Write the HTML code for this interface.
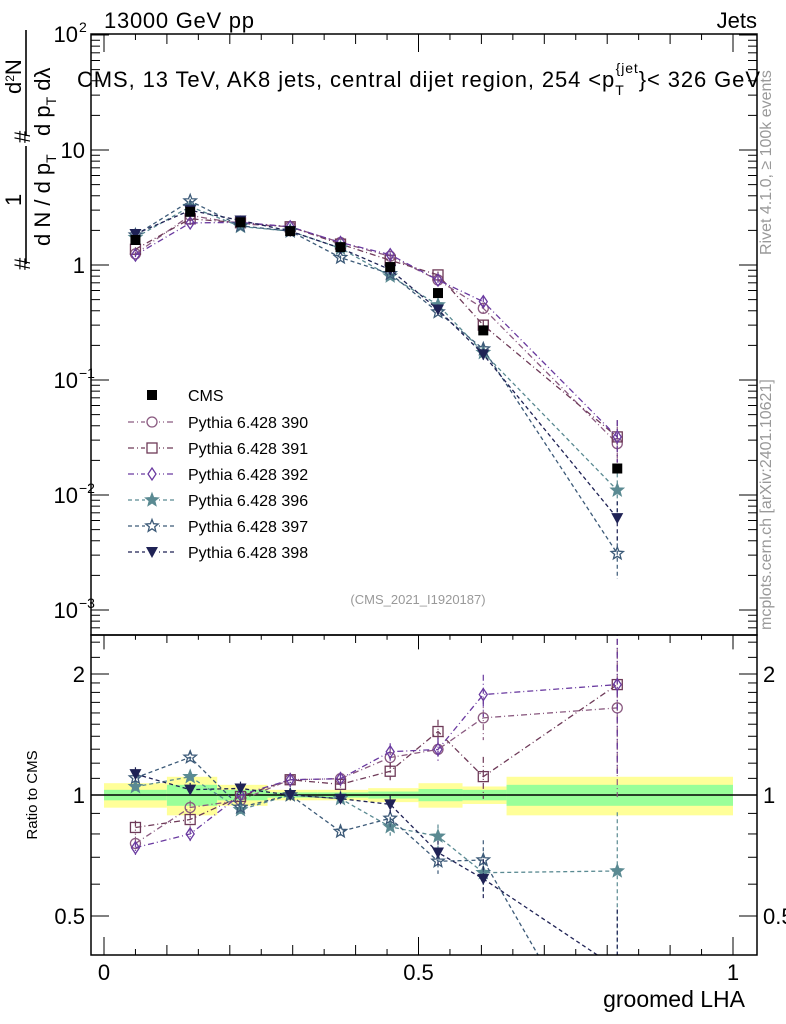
<!DOCTYPE html>
<html><head><meta charset="utf-8">
<style>
body{margin:0;background:#fff;overflow:hidden;}
svg{display:block;font-family:"Liberation Sans",sans-serif;}
</style></head>
<body>
<svg id="c" width="786" height="1024" viewBox="0 0 786 1024">
<g id="g"></g>
<text x="104" y="28" font-size="22" textLength="150">13000 GeV pp</text>
<text x="757" y="28" font-size="22" text-anchor="end">Jets</text>
<text x="77" y="87" font-size="22" textLength="683">CMS, 13 TeV, AK8 jets, central dijet region, 254 &lt;p<tspan font-size="14" dy="8">T</tspan><tspan font-size="14" dx="-9" dy="-22">{jet</tspan><tspan dy="14">}&lt; 326 GeV</tspan></text>
<text x="418" y="604" font-size="13" fill="#999" text-anchor="middle">(CMS_2021_I1920187)</text>
<text x="745" y="1007" font-size="23" text-anchor="end">groomed LHA</text>
<text transform="translate(37,795) rotate(-90)" font-size="15" text-anchor="middle">Ratio to CMS</text>
<g transform="rotate(-90)" font-size="22">
<text x="-270" y="30">#</text>
<text x="-206" y="21">1</text>
<line x1="-264" x2="-146" y1="26" y2="26" stroke="#000" stroke-width="1.6"/>
<text x="-246" y="50">d N / d p<tspan font-size="14" dy="6">T</tspan></text>
<text x="-143" y="30">#</text>
<text x="-94" y="21">d<tspan font-size="12" dy="-7">2</tspan><tspan dy="7">N</tspan></text>
<line x1="-136" x2="-30" y1="26" y2="26" stroke="#000" stroke-width="1.6"/>
<text x="-136" y="50">d p<tspan font-size="14" dy="6">T</tspan><tspan dy="-6"> d</tspan>λ</text>
</g>
<text transform="translate(771,255) rotate(-90)" font-size="16" fill="#999">Rivet 4.1.0, ≥ 100k events</text>
<text transform="translate(771,630) rotate(-90)" font-size="16" fill="#999">mcplots.cern.ch [arXiv:2401.10621]</text>
</svg>
<script>
const xCenters=[0.05,0.137,0.217,0.296,0.376,0.455,0.531,0.603,0.816];
const binEdges=[0,0.1,0.18,0.26,0.34,0.42,0.5,0.57,0.64,1.0];
const cmsValues=[1.65,2.9,2.35,1.97,1.43,0.96,0.57,0.27,0.017];
const bandYellow=[0.07,0.11,0.06,0.03,0.03,0.04,0.07,0.05,0.11];
const bandGreen=[0.03,0.06,0.03,0.015,0.015,0.02,0.035,0.03,0.06];
const s390=[1.25,2.7,2.28,2.15,1.57,1.19,0.74,0.42,0.028];
const s391=[1.37,2.52,2.33,2.15,1.52,1.10,0.82,0.30,0.032];
const s392=[1.22,2.32,2.35,2.15,1.57,1.23,0.74,0.48,0.032];
const s396=[1.73,3.22,2.16,1.97,1.40,0.80,0.45,0.173,0.011];
const s397=[1.82,3.6,2.19,1.97,1.16,0.84,0.39,0.186,0.0031];
const s398=[1.86,2.99,2.44,1.97,1.40,0.91,0.41,0.167,0.0063];
const relErr=[0.04,0.04,0.04,0.04,0.04,0.05,0.07,0.12,0.4];
const xTickLabels=["0","0.5","1"];
const series=[
 {name:"Pythia 6.428 390",v:s390,c:"#8a5a80",m:"circle",d:"6,3,1,3"},
 {name:"Pythia 6.428 391",v:s391,c:"#6e3a58",m:"square",d:"6,3,1,3"},
 {name:"Pythia 6.428 392",v:s392,c:"#6a3aa0",m:"diamond",d:"6,3,1,3"},
 {name:"Pythia 6.428 396",v:s396,c:"#5a8a92",m:"starf",d:"4,3"},
 {name:"Pythia 6.428 397",v:s397,c:"#3c5a78",m:"star",d:"4,3"},
 {name:"Pythia 6.428 398",v:s398,c:"#1f2255",m:"tri",d:"4,3"}];
const L=91,R=757,T=34,MB=635,RB=955;
const X=v=>104+629*v;
const Y=v=>265-115*Math.log10(v);
const YR=r=>795-121*Math.log2(r);
const NS="http://www.w3.org/2000/svg";
const g=document.getElementById('g');
function el(t,a,p){const e=document.createElementNS(NS,t);for(const k in a)e.setAttribute(k,a[k]);(p||g).appendChild(e);return e;}
function txt(s,a,p){const e=el('text',a,p);e.textContent=s;return e;}
function marker(m,x,y,c,p){
 let e;
 if(m==="circle")e=el('circle',{cx:x,cy:y,r:5,fill:"none",stroke:c,"stroke-width":1.3},p);
 else if(m==="square")e=el('rect',{x:x-5,y:y-5,width:10,height:10,fill:"none",stroke:c,"stroke-width":1.3},p);
 else if(m==="fsq")e=el('rect',{x:x-5,y:y-5,width:10,height:10,fill:c},p);
 else if(m==="diamond")e=el('polygon',{points:`${x},${y-6} ${x+4},${y} ${x},${y+6} ${x-4},${y}`,fill:"none",stroke:c,"stroke-width":1.3},p);
 else if(m==="tri")e=el('polygon',{points:`${x-6},${y-5} ${x+6},${y-5} ${x},${y+6}`,fill:c},p);
 else{let pts=[];for(let i=0;i<10;i++){const a=-Math.PI/2+i*Math.PI/5,r=i%2?2.8:6.5;pts.push((x+r*Math.cos(a)).toFixed(1)+","+(y+r*Math.sin(a)).toFixed(1));}
  e=el('polygon',{points:pts.join(' '),fill:m==="starf"?c:"none",stroke:c,"stroke-width":1.3},p);}
 return e;
}
const bands=el('g',{});


for(let i=0;i<cmsValues.length;i++){
 const x0=X(binEdges[i]),x1=X(binEdges[i+1]);
 const ry=el('rect',{x:x0,y:YR(1+bandYellow[i]),width:x1-x0,height:YR(1-bandYellow[i])-YR(1+bandYellow[i]),fill:"#ffff99"},bands);
 
 
 const rg=el('rect',{x:x0,y:YR(1+bandGreen[i]),width:x1-x0,height:YR(1-bandGreen[i])-YR(1+bandGreen[i]),fill:"#99ff99"},bands);
 
 
}
el('line',{x1:L,x2:R,y1:YR(1),y2:YR(1),stroke:"#000","stroke-width":1.5});
const defs=el('defs',{});
const cp1=el('clipPath',{id:"cm"},defs);el('rect',{x:L,y:T,width:R-L,height:MB-T},cp1);
const cp2=el('clipPath',{id:"cr"},defs);el('rect',{x:L,y:MB,width:R-L,height:RB-MB},cp2);
const gm=el('g',{"clip-path":"url(#cm)"});


const gr=el('g',{"clip-path":"url(#cr)"});


series.forEach((s,k)=>{
 const sg=el('g',{},gm);
 
 
 const rg2=el('g',{},gr);
 
 
 el('polyline',{points:s.v.map((v,i)=>X(xCenters[i])+","+Y(v)).join(' '),fill:"none",stroke:s.c,"stroke-width":1.3,"stroke-dasharray":s.d},sg);
 el('polyline',{points:s.v.map((v,i)=>X(xCenters[i])+","+YR(v/cmsValues[i])).join(' '),fill:"none",stroke:s.c,"stroke-width":1.3,"stroke-dasharray":s.d},rg2);
 s.v.forEach((v,i)=>{
  const x=X(xCenters[i]),e=relErr[i];
  el('line',{x1:x,x2:x,y1:Y(v*(1+e)),y2:Y(v*Math.max(1-e,0.05)),stroke:s.c,"stroke-width":1.2,"stroke-dasharray":s.d},sg);
  const r=v/cmsValues[i];
  el('line',{x1:x,x2:x,y1:YR(r*(1+e)),y2:YR(r*Math.max(1-e,0.05)),stroke:s.c,"stroke-width":1.2,"stroke-dasharray":s.d},rg2);
  const m1=marker(s.m,x,Y(v),s.c,sg);
  
  
  const m2=marker(s.m,x,YR(r),s.c,rg2);
  
  
 });
});
const cg=el('g',{},gm);


cmsValues.forEach((v,i)=>{const m=marker("fsq",X(xCenters[i]),Y(v),"#000",cg);
 
 });
el('rect',{x:L,y:T,width:R-L,height:MB-T,fill:"none",stroke:"#000","stroke-width":1.5});
el('rect',{x:L,y:MB,width:R-L,height:RB-MB,fill:"none",stroke:"#000","stroke-width":1.5});
for(let d=-4;d<=2;d++){for(let j=1;j<10;j++){const v=j*Math.pow(10,d);const y=Y(v);if(y<T-1||y>MB)continue;const len=j===1?18:9;
 el('line',{x1:L,x2:L+len,y1:y,y2:y,stroke:"#000"});el('line',{x1:R,x2:R-len,y1:y,y2:y,stroke:"#000"});}}
const yl=[["10","2",T],["10","",150],["1","",265],["10","−1",380],["10","−2",495],["10","−3",610]];
yl.forEach(a=>{const t=txt(a[0],{x:a[1]?78:85,y:a[2]+8,"font-size":22,"text-anchor":"end"});
 
 
 if(a[1]){const s=txt(a[1],{x:79,y:a[2]-2,"font-size":14});
 
 }});
[0.5,0.6,0.7,0.8,0.9,1,1.1,1.2,1.3,1.4,1.5,1.6,1.7,1.8,1.9,2,2.2,2.4].forEach(r=>{const y=YR(r);if(y<MB||y>RB)return;const len=(r===0.5||r===1||r===2)?18:9;
 el('line',{x1:L,x2:L+len,y1:y,y2:y,stroke:"#000"});el('line',{x1:R,x2:R-len,y1:y,y2:y,stroke:"#000"});});
[[2,"2"],[1,"1"],[0.5,"0.5"]].forEach(a=>{const t=txt(a[1],{x:85,y:YR(a[0])+8,"font-size":22,"text-anchor":"end"});
 
 
 const t2=txt(a[1],{x:763,y:YR(a[0])+8,"font-size":22});
 
 });
for(let i=0;i<=20;i++){const v=i*0.05,x=X(v);const len=i%10===0?18:(i%2===0?10:6);
 el('line',{x1:x,x2:x,y1:RB,y2:RB-len,stroke:"#000"});el('line',{x1:x,x2:x,y1:T,y2:T+len,stroke:"#000"});el('line',{x1:x,x2:x,y1:MB,y2:MB+len*0.8,stroke:"#000"});}
xTickLabels.forEach((s,i)=>{const t=txt(s,{x:X(i*0.5),y:980,"font-size":22,"text-anchor":"middle"});
 
 });
const lg=el('g',{});


const lc=el('g',{},lg);


marker("fsq",152,395,"#000",lc);txt("CMS",{x:188,y:401,"font-size":16},lc);
series.forEach((s,k)=>{const y=422+k*26;const e=el('g',{},lg);
 
 
 el('line',{x1:128,x2:176,y1:y,y2:y,stroke:s.c,"stroke-width":1.3,"stroke-dasharray":s.d},e);
 el('rect',{x:145,y:y-7,width:14,height:14,fill:"#fff"},e);
 marker(s.m,152,y,s.c,e);txt(s.name,{x:188,y:y+6,"font-size":16},e);});
</script>
</body></html>
